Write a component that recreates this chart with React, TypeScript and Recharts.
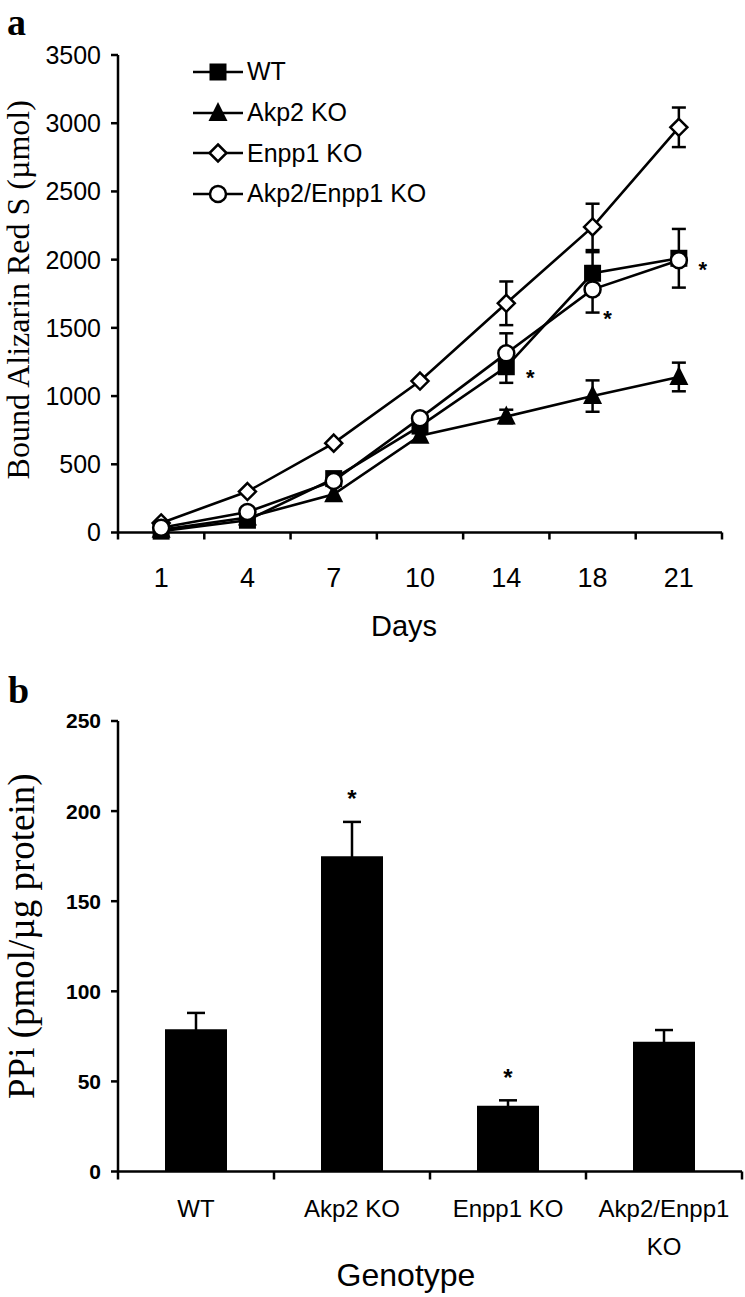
import React from "react";
import {
  LineChart,
  Line,
  BarChart,
  Bar,
  XAxis,
  YAxis,
  ErrorBar,
  LabelList,
  Legend,
} from "recharts";

const SANS = '"Liberation Sans", Arial, Helvetica, sans-serif';
const SERIF = '"Liberation Serif", "Times New Roman", Times, serif';

// panel a: bound Alizarin Red S over time
const days = ["1", "4", "7", "10", "14", "18", "21"];
const wt = [10, 90, 395, 780, 1215, 1900, 2010];
const akp2 = [20, 110, 280, 710, 850, 1000, 1140];
const enpp1 = [70, 300, 655, 1110, 1680, 2240, 2970];
const dko = [35, 150, 378, 838, 1313, 1782, 1995];
const wtErr = [null, null, null, null, 118, 155, 215];
const akp2Err = [null, null, null, null, 50, 115, 105];
const enpp1Err = [null, null, null, null, 160, 170, 145];
const dkoErr = [null, null, null, null, 147, 170, null];
const wtSig = ["", "", "", "", "*", "", "*"];
const dkoSig = ["", "", "", "", "", "*", ""];
const yTicksA = [0, 500, 1000, 1500, 2000, 2500, 3000, 3500];

// panel b: PPi per genotype
const genotypes = ["WT", "Akp2 KO", "Enpp1 KO", "Akp2/Enpp1 KO"];
const ppi = [79, 175, 36.5, 72];
const ppiErr = [9, 19, 3, 6.5];
const ppiSig = ["", "*", "*", ""];
const yTicksB = [0, 50, 100, 150, 200, 250];

const seriesA = [
  { key: "wt", name: "WT" },
  { key: "akp2", name: "Akp2 KO" },
  { key: "enpp1", name: "Enpp1 KO" },
  { key: "dko", name: "Akp2/Enpp1 KO" },
];

const lineData = days.map((d, i) => ({
  pos: i + 0.5,
  day: d,
  wt: wt[i],
  akp2: akp2[i],
  enpp1: enpp1[i],
  dko: dko[i],
  wtErr: wtErr[i],
  akp2Err: akp2Err[i],
  enpp1Err: enpp1Err[i],
  dkoErr: dkoErr[i],
  wtSig: wtSig[i],
  dkoSig: dkoSig[i],
}));
const dayTicks = Array.from({ length: days.length * 2 + 1 }, (_, i) => i / 2);

const barData = genotypes.map((g, i) => ({
  name: g,
  ppi: ppi[i],
  ppiErr: ppiErr[i],
  sig: ppiSig[i],
}));

const AXIS = { stroke: "#000", strokeWidth: 2.5 };
const BAND_B = (745 - 48 - 70 - 3) / genotypes.length;

function Marker({ kind, cx, cy }: any) {
  if (cx == null || cy == null) return null;
  if (kind === "wt")
    return <rect x={cx - 8.5} y={cy - 8.5} width={17} height={17} fill="#000" />;
  if (kind === "akp2")
    return (
      <polygon
        points={`${cx},${cy - 11} ${cx - 9.5},${cy + 8} ${cx + 9.5},${cy + 8}`}
        fill="#000"
      />
    );
  if (kind === "enpp1")
    return (
      <polygon
        points={`${cx},${cy - 8.5} ${cx + 8.5},${cy} ${cx},${cy + 8.5} ${cx - 8.5},${cy}`}
        fill="#fff"
        stroke="#000"
        strokeWidth={2.5}
      />
    );
  return <circle cx={cx} cy={cy} r={8} fill="#fff" stroke="#000" strokeWidth={2.5} />;
}

function DayTick({ x, y, payload }: any) {
  const v = payload.value;
  if (Number.isInteger(v)) {
    return <line x1={x} x2={x} y1={y} y2={y + 7} stroke="#000" strokeWidth={2.5} />;
  }
  return (
    <text x={x} y={y + 35} dy="0.71em" textAnchor="middle" fontFamily={SANS} fontSize={27} fill="#000">
      {days[Math.floor(v)]}
    </text>
  );
}

function GenoTick({ x, y, payload, index }: any) {
  const label = String(payload.value);
  const cut = label.lastIndexOf(" ");
  const lines = label.length > 12 ? [label.slice(0, cut), label.slice(cut + 1)] : [label];
  const half = BAND_B / 2;
  return (
    <g>
      <line x1={x - half} x2={x - half} y1={y} y2={y + 8} stroke="#000" strokeWidth={2.5} />
      {index === genotypes.length - 1 && (
        <line x1={x + half} x2={x + half} y1={y} y2={y + 8} stroke="#000" strokeWidth={2.5} />
      )}
      <text x={x} y={y + 45.5} textAnchor="middle" fontFamily={SANS} fontSize={24} fill="#000">
        {lines.map((t, i) => (
          <tspan key={i} x={x} dy={i === 0 ? 0 : 38}>
            {t}
          </tspan>
        ))}
      </text>
    </g>
  );
}

function SideTitle({ viewBox, text, x, size, shift }: any) {
  const cy = viewBox.y + viewBox.height / 2 + shift;
  return (
    <text
      x={x}
      y={cy}
      transform={`rotate(-90 ${x} ${cy})`}
      textAnchor="middle"
      fontFamily={SERIF}
      fontSize={size}
      fill="#000"
    >
      {text}
    </text>
  );
}

const pointStar = (dx: number, dy: number) => (p: any) => {
  const vb = p.viewBox || {};
  const x = vb.x ?? p.x;
  const y = vb.y ?? p.y;
  if (!p.value || x == null) return null;
  return (
    <text x={x + dx} y={y + dy + 12.6} textAnchor="middle" fontFamily={SANS} fontWeight={700} fontSize={22} fill="#000">
      {p.value}
    </text>
  );
};

function BarStar(p: any) {
  const { viewBox, value, index } = p;
  if (!value || !viewBox) return null;
  const { x, y, width, height } = viewBox;
  const errPx = (ppiErr[index] * height) / ppi[index];
  return (
    <text
      x={x + width / 2}
      y={y - errPx - 28.5 + 14}
      textAnchor="middle"
      fontFamily={SANS}
      fontWeight={700}
      fontSize={24}
      fill="#000"
    >
      {value}
    </text>
  );
}

function LegendBox() {
  return (
    <div style={{ fontFamily: SANS, fontSize: 25, color: "#000" }}>
      {seriesA.map((s) => (
        <div key={s.key} style={{ display: "flex", alignItems: "center", height: 40.7 }}>
          <svg width={50} height={30} style={{ overflow: "visible" }}>
            <line x1={0} x2={50} y1={15} y2={15} stroke="#000" strokeWidth={2.5} />
            <Marker kind={s.key} cx={25} cy={15} />
          </svg>
          <span style={{ marginLeft: 4, whiteSpace: "nowrap" }}>{s.name}</span>
        </div>
      ))}
    </div>
  );
}

const letter = (top: number, left: number) => ({
  position: "absolute" as const,
  left,
  top,
  fontFamily: SERIF,
  fontWeight: 700,
  fontSize: 38,
  lineHeight: "normal",
  color: "#000",
});

export default function App() {
  return (
    <div
      style={{
        position: "absolute",
        left: 0,
        top: 0,
        width: 745,
        height: 1297,
        background: "#fff",
        overflow: "hidden",
      }}
    >
      <div style={{ position: "absolute", left: 0, top: 0 }}>
        <LineChart
          width={745}
          height={650}
          data={lineData}
          margin={{ top: 55, right: 23, bottom: 14, left: 48 }}
        >
          <XAxis
            type="number"
            dataKey="pos"
            domain={[0, days.length]}
            ticks={dayTicks}
            interval={0}
            tickLine={false}
            tickSize={0}
            tickMargin={0}
            tick={(p: any) => <DayTick {...p} />}
            axisLine={AXIS}
            height={103.5}
            label={{
              value: "Days",
              position: "insideBottom",
              offset: 0,
              dx: -16,
              fontSize: 29,
              fill: "#000",
              fontFamily: SANS,
            }}
          />
          <YAxis
            type="number"
            domain={[0, 3500]}
            ticks={yTicksA}
            interval={0}
            width={70}
            tickSize={7}
            tickMargin={10}
            tick={{ fontSize: 25, fill: "#000", fontFamily: SANS }}
            axisLine={AXIS}
            tickLine={AXIS}
            label={(p: any) => (
              <SideTitle viewBox={p.viewBox} text="Bound Alizarin Red S (µmol)" x={29} size={32} shift={-4} />
            )}
          />
          <Legend
            layout="horizontal"
            verticalAlign="middle"
            align="center"
            wrapperStyle={{ top: 51.5, left: 193, width: "auto" }}
            content={() => <LegendBox />}
          />
          <Line
            dataKey="akp2"
            name="Akp2 KO"
            stroke="#000"
            strokeWidth={2.6}
            isAnimationActive={false}
            activeDot={false}
            dot={(p: any) => <Marker key={`akp2-${p.index}`} kind="akp2" cx={p.cx} cy={p.cy} />}
          >
            <ErrorBar dataKey="akp2Err" width={7} strokeWidth={2.5} stroke="#000" direction="y" />
          </Line>
          <Line
            dataKey="wt"
            name="WT"
            stroke="#000"
            strokeWidth={2.6}
            isAnimationActive={false}
            activeDot={false}
            dot={(p: any) => <Marker key={`wt-${p.index}`} kind="wt" cx={p.cx} cy={p.cy} />}
          >
            <ErrorBar dataKey="wtErr" width={7} strokeWidth={2.5} stroke="#000" direction="y" />
            <LabelList dataKey="wtSig" content={pointStar(24, 6)} />
          </Line>
          <Line
            dataKey="enpp1"
            name="Enpp1 KO"
            stroke="#000"
            strokeWidth={2.6}
            isAnimationActive={false}
            activeDot={false}
            dot={(p: any) => <Marker key={`enpp1-${p.index}`} kind="enpp1" cx={p.cx} cy={p.cy} />}
          >
            <ErrorBar dataKey="enpp1Err" width={7} strokeWidth={2.5} stroke="#000" direction="y" />
          </Line>
          <Line
            dataKey="dko"
            name="Akp2/Enpp1 KO"
            stroke="#000"
            strokeWidth={2.6}
            isAnimationActive={false}
            activeDot={false}
            dot={(p: any) => <Marker key={`dko-${p.index}`} kind="dko" cx={p.cx} cy={p.cy} />}
          >
            <ErrorBar dataKey="dkoErr" width={7} strokeWidth={2.5} stroke="#000" direction="y" />
            <LabelList dataKey="dkoSig" content={pointStar(15, 24)} />
          </Line>
        </LineChart>
      </div>
      <div style={letter(0, 7)}>a</div>

      <div style={{ position: "absolute", left: 0, top: 650 }}>
        <BarChart
          width={745}
          height={647}
          data={barData}
          margin={{ top: 71, right: 3, bottom: 11.5, left: 48 }}
        >
          <XAxis
            dataKey="name"
            type="category"
            interval={0}
            tickLine={false}
            tickSize={0}
            tickMargin={0}
            tick={(p: any) => <GenoTick {...p} />}
            axisLine={AXIS}
            height={114}
            label={{
              value: "Genotype",
              position: "insideBottom",
              offset: 0,
              dx: -24,
              fontSize: 32,
              fill: "#000",
              fontFamily: SANS,
            }}
          />
          <YAxis
            type="number"
            domain={[0, 250]}
            ticks={yTicksB}
            interval={0}
            width={70}
            tickSize={7}
            tickMargin={10}
            tick={{ fontSize: 21, fontWeight: 700, fill: "#000", fontFamily: SANS }}
            axisLine={AXIS}
            tickLine={AXIS}
            label={(p: any) => (
              <SideTitle viewBox={p.viewBox} text="PPi (pmol/µg protein)" x={34} size={37} shift={-10} />
            )}
          />
          <Bar dataKey="ppi" fill="#000" barSize={62} isAnimationActive={false}>
            <ErrorBar dataKey="ppiErr" width={9} strokeWidth={2.5} stroke="#000" direction="y" />
            <LabelList dataKey="sig" content={BarStar} />
          </Bar>
        </BarChart>
      </div>
      <div style={letter(668, 8)}>b</div>
    </div>
  );
}
